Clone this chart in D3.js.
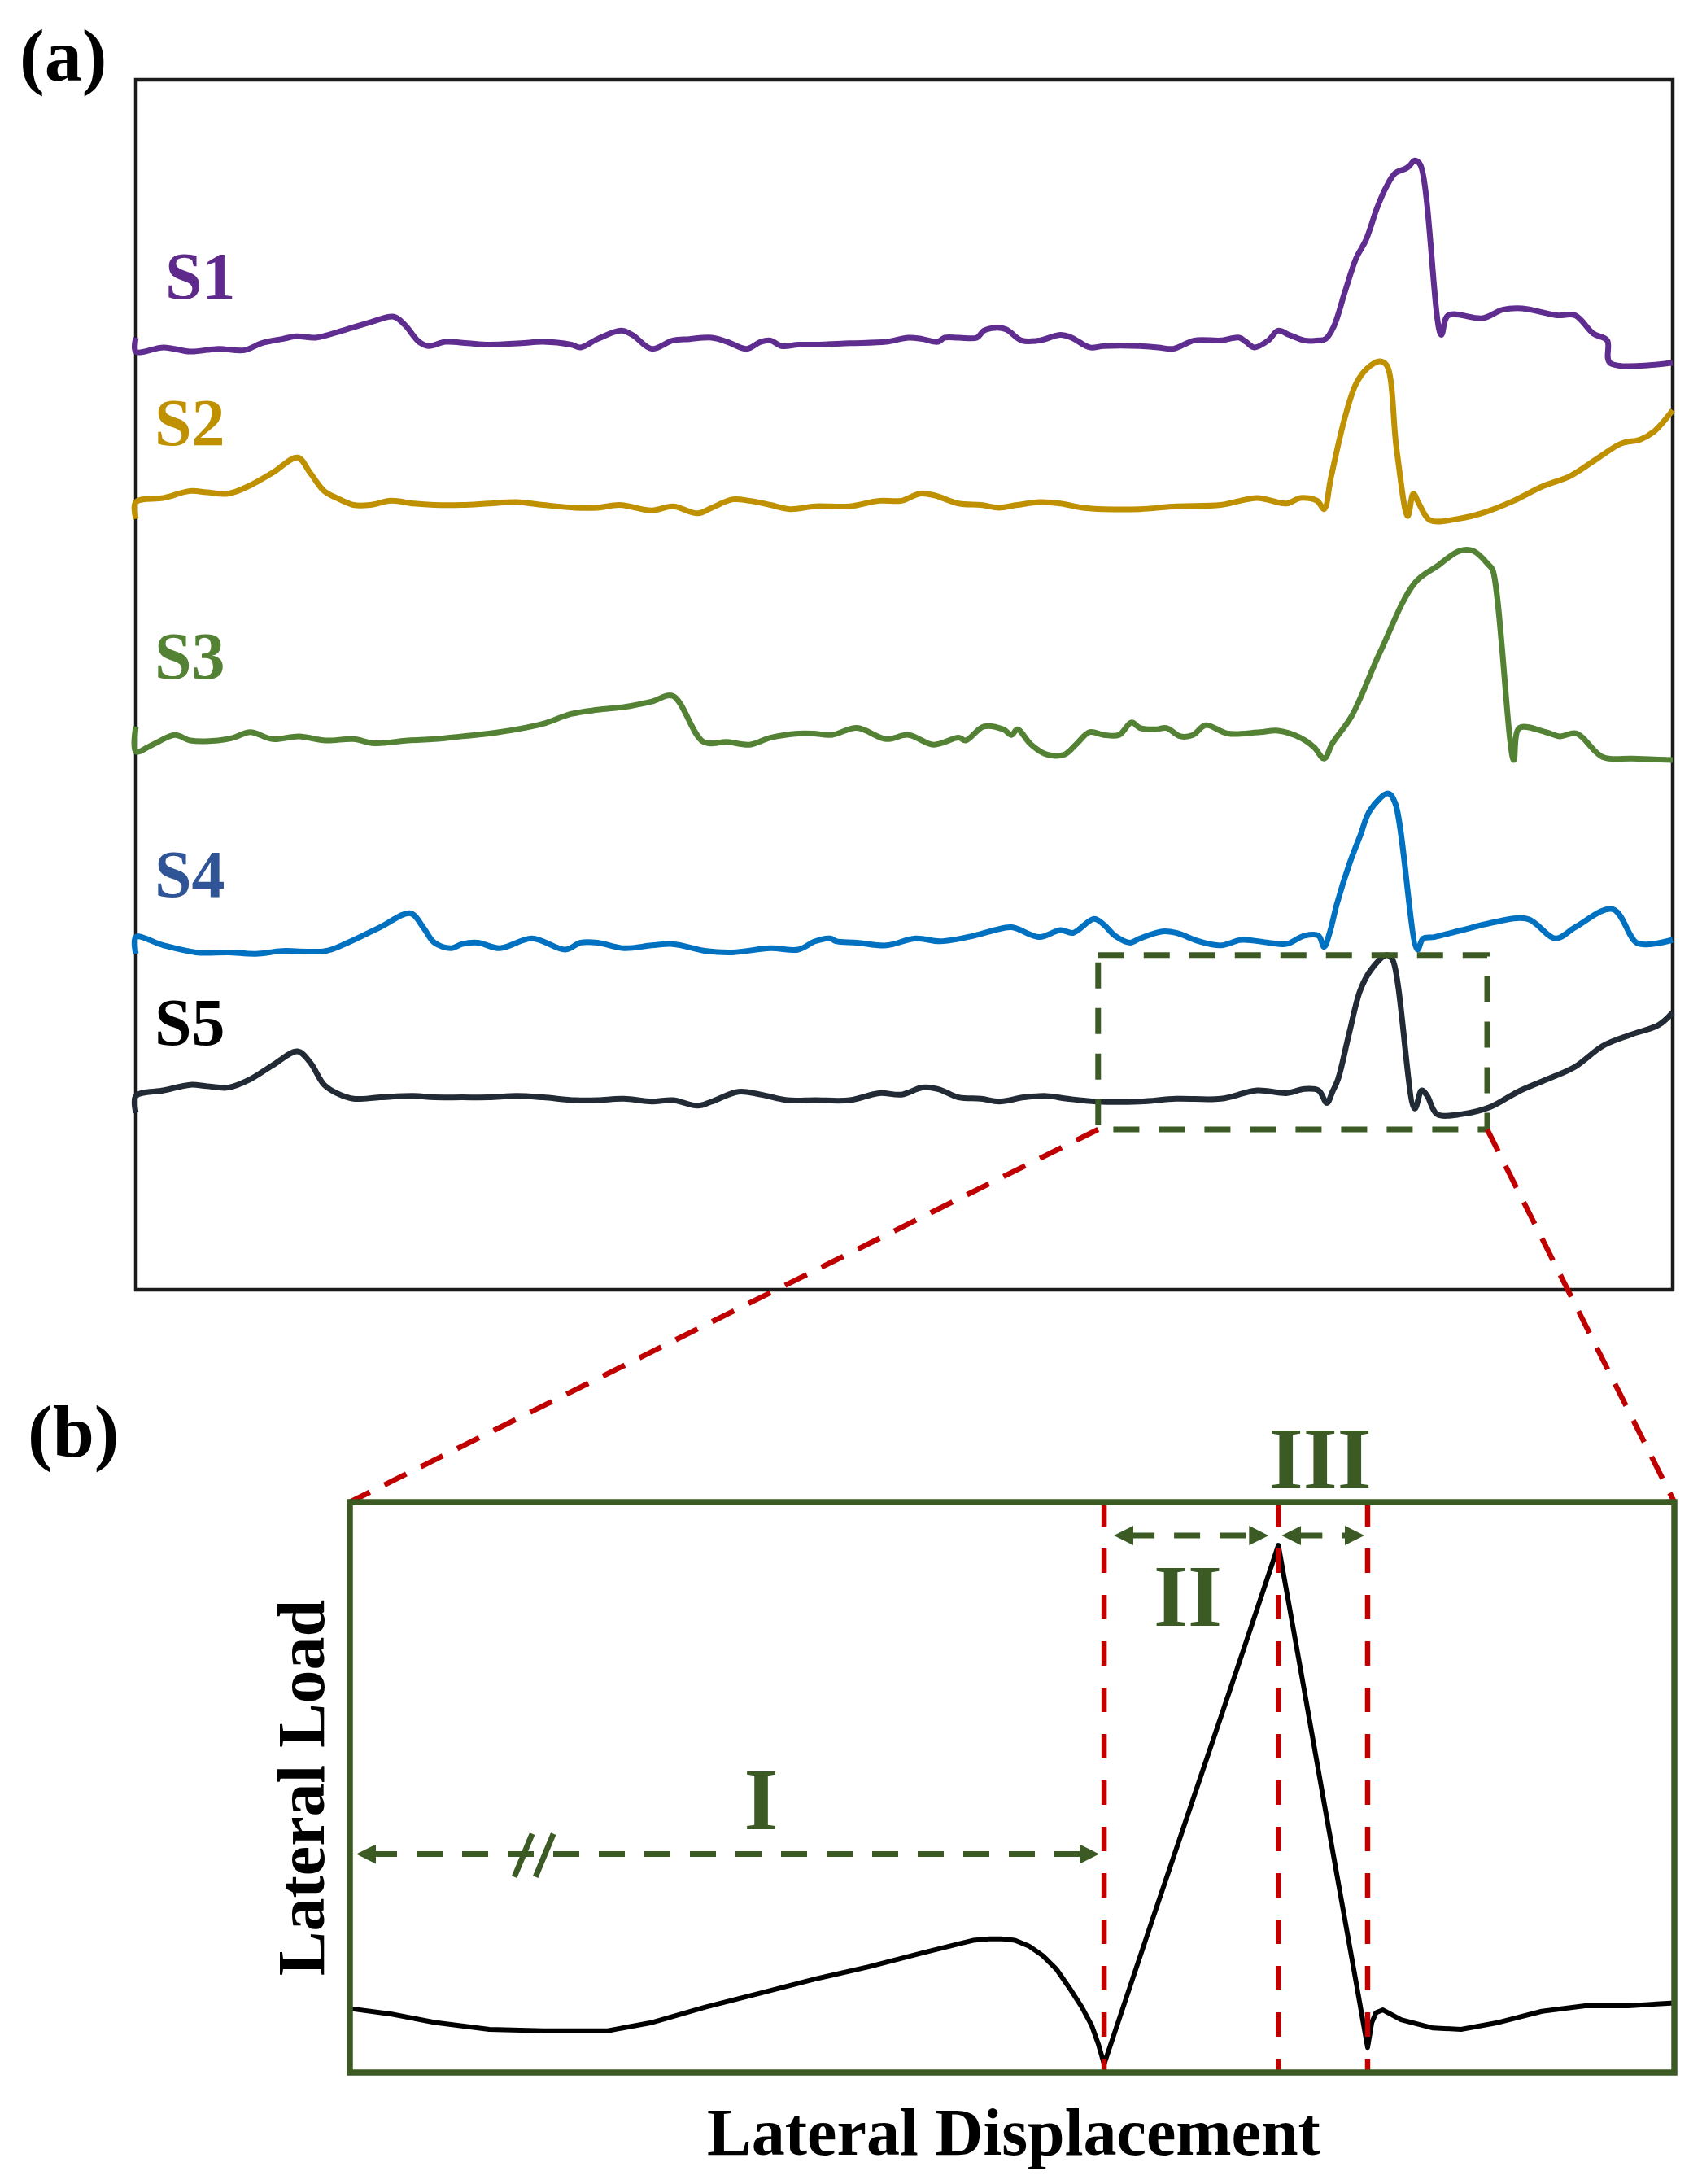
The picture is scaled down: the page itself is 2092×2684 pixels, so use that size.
<!DOCTYPE html>
<html>
<head>
<meta charset="utf-8">
<script src="https://cdnjs.cloudflare.com/ajax/libs/d3/7.8.5/d3.min.js"></script>
<style>
  body { margin: 0; background: #fff; }
  text { font-family: "Liberation Serif", "Times New Roman", serif; font-weight: bold; }
</style>
</head>
<body>
<svg id="chart"></svg>
<script>
// ---- data (arbitrary displacement / load units) ----
const seriesNames = ['S1', 'S2', 'S3', 'S4', 'S5'];

const s1 = [[0,683],[0,673],[20,676],[39,673],[59,675],[78,674],[90,679],[105,682],[115,684],[129,683],[148,688],[168,694],[185,698],[193,692],[203,680],[210,677],[222,680],[238,679],[253,678],[276,679],[292,680],[312,678],[319,676],[331,682],[348,688],[356,685],[370,675],[385,681],[397,682],[413,683],[424,680],[438,675],[448,680],[455,681],[463,677],[475,678],[486,678],[512,679],[538,680],[554,683],[564,682],[575,680],[580,683],[590,683],[603,683],[608,688],[616,690],[624,689],[635,681],[648,681],[663,685],[671,683],[684,676],[694,677],[720,677],[733,676],[744,675],[759,681],[778,681],[791,683],[796,680],[802,676],[812,681],[819,688],[827,685],[838,681],[848,681],[853,682],[859,691],[867,716],[875,740],[882,753],[890,776],[896,790],[903,801],[910,804],[913,806],[917,810],[921,807],[936,685],[941,699],[966,697],[980,703],[994,704],[1019,699],[1032,699],[1045,686],[1055,681],[1057,665],[1102,665]];

const s2 = [[0,553],[0,565],[20,568],[39,573],[51,572],[66,571],[82,577],[98,586],[116,597],[125,586],[135,573],[144,568],[156,563],[168,563],[183,566],[199,564],[214,563],[234,563],[253,564],[273,565],[292,563],[315,561],[331,561],[347,563],[370,559],[385,562],[403,557],[413,561],[428,567],[440,566],[455,563],[469,560],[487,562],[512,562],[533,566],[549,566],[562,571],[572,570],[590,564],[606,563],[619,561],[632,563],[648,565],[663,564],[679,561],[694,560],[720,560],[746,562],[778,563],[804,568],[825,564],[835,568],[847,566],[852,560],[857,583],[867,626],[875,650],[883,661],[892,666],[897,663],[904,603],[912,555],[916,571],[920,564],[928,552],[948,553],[968,558],[988,566],[1008,576],[1029,584],[1049,597],[1065,607],[1079,610],[1089,616],[1102,631]];

const s3 = [[0,404],[0,386],[12,391],[28,398],[39,394],[59,394],[70,396],[82,400],[98,395],[117,397],[136,394],[156,395],[171,392],[195,394],[214,395],[234,397],[253,399],[273,402],[292,406],[312,413],[331,416],[350,418],[370,422],[385,426],[407,393],[424,393],[440,391],[455,396],[475,399],[486,399],[499,398],[517,403],[538,395],[554,398],[572,391],[590,396],[595,394],[608,404],[622,402],[628,398],[632,402],[642,391],[653,384],[666,384],[674,391],[684,400],[694,398],[705,398],[714,407],[720,403],[731,402],[739,403],[749,397],[758,398],[767,405],[783,399],[806,400],[819,401],[835,396],[845,389],[852,381],[858,392],[872,412],[892,457],[917,507],[933,519],[949,530],[959,530],[970,520],[973,516],[988,380],[992,403],[1011,400],[1021,397],[1033,399],[1052,382],[1073,381],[1102,380]];

const s4 = [[0,241],[0,253],[20,247],[43,242],[66,242],[86,241],[105,243],[136,243],[152,249],[175,260],[197,270],[206,260],[214,249],[226,245],[234,248],[245,249],[261,245],[284,252],[308,244],[319,249],[331,249],[350,245],[370,247],[385,248],[409,243],[428,242],[455,245],[475,244],[487,250],[498,252],[502,250],[517,249],[538,247],[559,252],[577,250],[601,254],[616,258],[628,260],[648,253],[663,258],[672,256],[687,266],[694,262],[702,254],[713,249],[720,252],[736,257],[746,256],[762,250],[778,247],[793,251],[812,249],[825,248],[838,254],[848,254],[852,246],[856,256],[861,276],[870,305],[878,326],[885,344],[898,356],[903,349],[919,244],[923,252],[931,253],[951,258],[971,263],[998,266],[1018,252],[1032,260],[1059,273],[1076,249],[1087,248],[1102,251]];

const s5 = [[0,127],[0,139],[20,143],[39,147],[51,146],[66,145],[82,151],[98,161],[116,171],[125,163],[135,147],[144,141],[156,137],[175,138],[199,139],[214,138],[234,138],[253,138],[273,139],[292,138],[315,136],[331,136],[350,137],[370,135],[385,136],[403,132],[413,135],[432,142],[448,140],[467,136],[487,136],[512,136],[533,141],[549,140],[564,145],[575,144],[590,138],[606,137],[619,135],[637,138],[653,139],[668,137],[689,135],[720,135],[746,137],[778,137],[804,143],[825,141],[838,144],[848,143],[854,134],[858,142],[862,151],[870,184],[878,215],[886,230],[897,240],[901,237],[917,130],[922,143],[926,139],[933,126],[951,126],[971,131],[991,142],[1012,151],[1032,160],[1052,175],[1072,183],[1092,190],[1102,199]];

const seriesData = [s1, s2, s3, s4, s5];

// zoomed window of S5 shown in panel (b)
const zoomBoxX = [690, 969];
const zoomBoxY = [115, 240];

// panel (b) idealised curve
const detailCurve = [[0,46],[30,42],[61,36],[100,31],[139,30],[185,30],[217,36],[255,47],[294,57],[333,67],[372,76],[411,86],[435,92],[447,95],[458,96],[468,96],[477,95],[487,91],[497,84],[507,74],[516,61],[525,47],[532,34],[537,20],[541,6],[548,27],[575,108],[606,200],[636,289],[656,349],[666,379],[684,278],[700,187],[711,125],[721,69],[727,35],[730,18],[733,36],[736,43],[741,45],[754,38],[777,32],[797,31],[824,36],[855,44],[886,48],[917,48],[950,50]];
const phaseBounds = [541, 666, 730];
const phaseNames = ['I', 'II', 'III'];

// ---- layout ----
const W = 2092, H = 2684;
const svg = d3.select('#chart').attr('width', W).attr('height', H);

const xA = d3.scaleLinear().domain([0, 1102]).range([167, 2056]);
const yA = d3.scaleLinear().domain([0, 868]).range([1585, 98]);
const xB = d3.scaleLinear().domain([0, 950]).range([430, 2058]);
const yB = d3.scaleLinear().domain([0, 410]).range([2547, 1846]);

const lineColors = ['#5F2C8F', '#BF9000', '#548235', '#0070C0', '#222A35'];
const labelColors = ['#5E2B8C', '#BF9000', '#548235', '#2F5597', '#000000'];
const labelPos = [[203, 367], [190, 547], [190, 834], [190, 1102], [190, 1284]];
const green = '#3B5A24';
const red = '#C00000';

// ---- panel (a) ----
svg.append('text').attr('x', 24).attr('y', 99).attr('font-size', 92).text('(a)');

svg.append('rect')
    .attr('x', xA(0)).attr('y', yA(868))
    .attr('width', xA(1102) - xA(0)).attr('height', yA(0) - yA(868))
    .attr('fill', 'none').attr('stroke', '#1a1a1a').attr('stroke-width', 4.5);

const lineA = d3.line()
    .x(d => xA(d[0])).y(d => yA(d[1]))
    .curve(d3.curveCatmullRom.alpha(0.5));

svg.selectAll('path.series')
    .data(seriesData)
    .enter()
    .append('path')
    .attr('class', 'series')
    .attr('d', lineA)
    .attr('fill', 'none')
    .attr('stroke', (d, i) => lineColors[i])
    .attr('stroke-width', 7)
    .attr('stroke-linejoin', 'round');

svg.selectAll('text.slabel')
    .data(seriesNames)
    .enter()
    .append('text')
    .attr('class', 'slabel')
    .attr('x', (d, i) => labelPos[i][0])
    .attr('y', (d, i) => labelPos[i][1])
    .attr('font-size', 82)
    .attr('fill', (d, i) => labelColors[i])
    .text(d => d);

// zoom window
svg.append('rect')
    .attr('x', xA(zoomBoxX[0])).attr('y', yA(zoomBoxY[1]))
    .attr('width', xA(zoomBoxX[1]) - xA(zoomBoxX[0]))
    .attr('height', yA(zoomBoxY[0]) - yA(zoomBoxY[1]))
    .attr('fill', 'none').attr('stroke', green)
    .attr('stroke-width', 7).attr('stroke-dasharray', '32,24');

// connectors to panel (b)
const connectors = [
    [xA(zoomBoxX[0]), yA(zoomBoxY[0]), xB(0), yB(410)],
    [xA(zoomBoxX[1]), yA(zoomBoxY[0]), xB(950), yB(410)]
];
svg.selectAll('line.conn')
    .data(connectors)
    .enter()
    .append('line')
    .attr('class', 'conn')
    .attr('x1', d => d[0]).attr('y1', d => d[1])
    .attr('x2', d => d[2]).attr('y2', d => d[3])
    .attr('stroke', red).attr('stroke-width', 6.5)
    .attr('stroke-dasharray', '30,20');

// ---- panel (b) ----
svg.append('text').attr('x', 34).attr('y', 1790).attr('font-size', 92).text('(b)');

const defs = svg.append('defs');
defs.append('marker')
    .attr('id', 'head')
    .attr('viewBox', '0 0 24 24')
    .attr('refX', 6).attr('refY', 12)
    .attr('markerWidth', 24).attr('markerHeight', 24)
    .attr('markerUnits', 'userSpaceOnUse')
    .attr('orient', 'auto-start-reverse')
    .append('path')
    .attr('d', 'M0,0 L24,12 L0,24 Z')
    .attr('fill', green);

// linear so the peak and the dips stay sharp
const lineB = d3.line().x(d => xB(d[0])).y(d => yB(d[1]));

svg.append('path')
    .datum(detailCurve)
    .attr('d', lineB)
    .attr('fill', 'none')
    .attr('stroke', '#000')
    .attr('stroke-width', 6)
    .attr('stroke-linejoin', 'round');

svg.selectAll('line.bound')
    .data(phaseBounds)
    .enter()
    .append('line')
    .attr('class', 'bound')
    .attr('x1', d => xB(d)).attr('x2', d => xB(d))
    .attr('y1', yB(410)).attr('y2', yB(0))
    .attr('stroke', red).attr('stroke-width', 6.5)
    .attr('stroke-dasharray', '30,27');

svg.append('rect')
    .attr('x', xB(0)).attr('y', yB(410))
    .attr('width', xB(950) - xB(0)).attr('height', yB(0) - yB(410))
    .attr('fill', 'none').attr('stroke', green).attr('stroke-width', 7.5);

// phase arrows: I spans 0..bound0, II bound0..bound1, III bound1..bound2
const arrowLevels = [157, 386, 386];
const arrowInset = [[8, 6], [12, 12], [4, 4]];
const phases = phaseNames.map((name, i) => ({
    name: name,
    x0: i === 0 ? 0 : phaseBounds[i - 1],
    x1: phaseBounds[i],
    y: arrowLevels[i]
}));

svg.selectAll('line.arrow')
    .data(phases)
    .enter()
    .append('line')
    .attr('class', 'arrow')
    .attr('x1', (d, i) => xB(d.x0) + arrowInset[i][0] + 18)
    .attr('x2', (d, i) => xB(d.x1) - arrowInset[i][1] - 18)
    .attr('y1', d => yB(d.y)).attr('y2', d => yB(d.y))
    .attr('stroke', green).attr('stroke-width', 7)
    .attr('stroke-dasharray', '32,24')
    .attr('marker-start', 'url(#head)')
    .attr('marker-end', 'url(#head)');

// axis break on arrow I
const breakX = 132;
[-13, 13].forEach(off => {
    svg.append('line')
        .attr('x1', xB(breakX) + off + 11).attr('y1', yB(157) - 25)
        .attr('x2', xB(breakX) + off - 11).attr('y2', yB(157) + 28)
        .attr('stroke', green).attr('stroke-width', 7);
});

const phaseLabelPos = [[295, 175], [601, 321], [696, 420]];
svg.selectAll('text.phase')
    .data(phaseNames)
    .enter()
    .append('text')
    .attr('class', 'phase')
    .attr('x', (d, i) => xB(phaseLabelPos[i][0]))
    .attr('y', (d, i) => yB(phaseLabelPos[i][1]))
    .attr('text-anchor', 'middle')
    .attr('font-size', 108)
    .attr('fill', green)
    .text(d => d);

// axis titles
svg.append('text')
    .attr('transform', 'translate(398,2197) rotate(-90)')
    .attr('text-anchor', 'middle')
    .attr('font-size', 82)
    .text('Lateral Load');

svg.append('text')
    .attr('x', 1246).attr('y', 2648)
    .attr('text-anchor', 'middle')
    .attr('font-size', 82)
    .text('Lateral Displacement');
</script>
</body>
</html>
